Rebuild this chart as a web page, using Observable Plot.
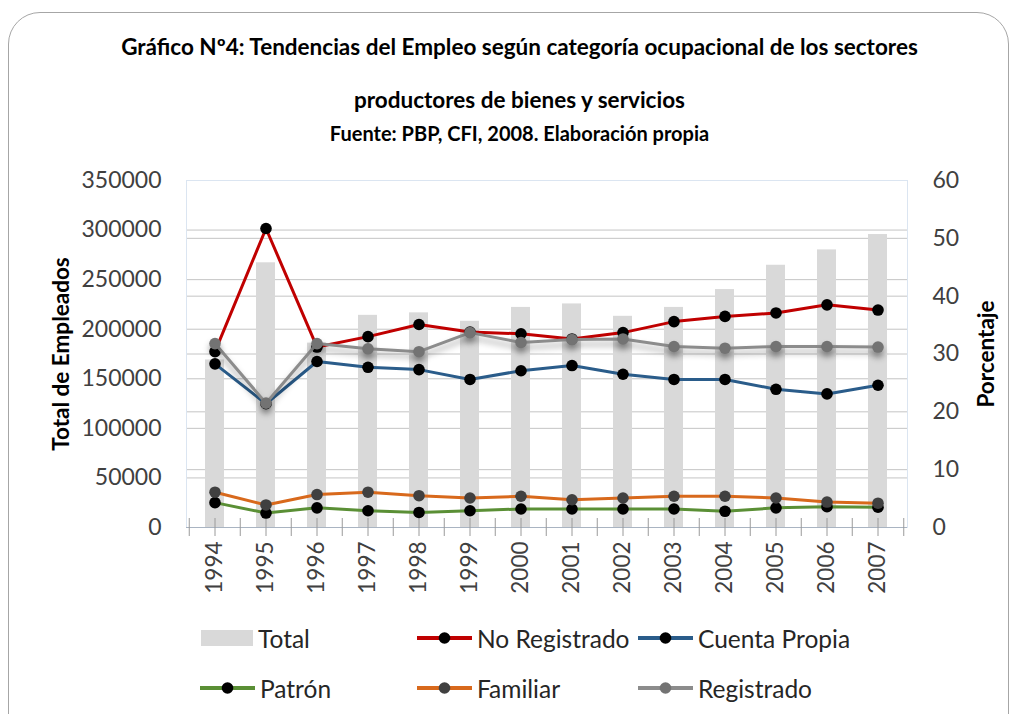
<!DOCTYPE html>
<html>
<head>
<meta charset="utf-8">
<script src="https://cdn.jsdelivr.net/npm/d3@7"></script>
<script src="https://cdn.jsdelivr.net/npm/@observablehq/plot@0.6"></script>
<style>
  html, body { margin: 0; padding: 0; background: #fff; }
  #wrap { position: relative; width: 1019px; height: 714px; overflow: hidden; font-family: Lato, "Open Sans", sans-serif; }
  #frame { position: absolute; left: 8px; top: 12px; width: 1001px; height: 760px; border: 1.5px solid #a6a6a6; border-radius: 32px; box-sizing: border-box; }
  .title { position: absolute; left: 10px; width: 1019px; text-align: center; font-weight: bold; color: #000; white-space: nowrap; line-height: 1; }
  #chart { position: absolute; left: 0; top: 160px; }
  .leg { position: absolute; display: flex; align-items: center; font-size: 24.5px; color: #262626; white-space: nowrap; }
  .leg svg { margin-right: 5px; }
</style>
</head>
<body>
<div id="wrap">
  <div id="frame"></div>
  <div class="title" style="top:36px;font-size:22.5px;">Gráfico Nº4: Tendencias del Empleo según categoría ocupacional de los sectores</div>
  <div class="title" style="top:89px;font-size:22.5px;">productores de bienes y servicios</div>
  <div class="title" style="top:123px;font-size:20px;">Fuente: PBP, CFI, 2008. Elaboración propia</div>
  <div id="chart"></div>
  <div id="legend"></div>
</div>
<script>
// ---- data ----
const years = ["1994","1995","1996","1997","1998","1999","2000","2001","2002","2003","2004","2005","2006","2007"];
const total = [169000, 267000, 186000, 214000, 216500, 208000, 222000, 225500, 213000, 222000, 240000, 264500, 280000, 295500];
const noRegistrado = [30.4, 51.7, 31.2, 33.0, 35.1, 33.8, 33.5, 32.6, 33.7, 35.6, 36.5, 37.1, 38.5, 37.6];
const cuentaPropia = [28.3, 21.4, 28.7, 27.7, 27.3, 25.6, 27.1, 28.0, 26.5, 25.6, 25.6, 23.9, 23.1, 24.6];
const patron = [4.3, 2.5, 3.4, 2.9, 2.6, 2.9, 3.2, 3.2, 3.2, 3.2, 2.8, 3.4, 3.6, 3.5];
const familiar = [6.1, 3.9, 5.7, 6.1, 5.5, 5.1, 5.4, 4.8, 5.1, 5.4, 5.4, 5.1, 4.4, 4.2];
const registrado = [31.8, 21.5, 31.8, 30.9, 30.4, 33.7, 32.0, 32.5, 32.6, 31.3, 31.0, 31.3, 31.3, 31.2];
const leftTicks = [0, 50000, 100000, 150000, 200000, 250000, 300000, 350000];
const rightTicks = [0, 10, 20, 30, 40, 50, 60];

const seriesNames = ["No Registrado", "Cuenta Propia", "Patrón", "Familiar", "Registrado"];
const seriesValues = [noRegistrado, cuentaPropia, patron, familiar, registrado];
const lineColors = ["#c00000", "#2a5c8a", "#5a8f35", "#d8691c", "#8c8c8c"];
const dotColors = ["#000000", "#000000", "#000000", "#404040", "#737373"];

// left axis max / right axis max
const LMAX = 350000, RMAX = 60;
const toLeft = p => p * LMAX / RMAX;

const W = 1019, H = 450, ML = 186, MR = 112, MT = 20, MB = 83;
const step = (W - ML - MR) / years.length;

const bars = years.map((y, i) => ({year: y, value: total[i]}));
const series = seriesNames.map((name, k) => years.map((y, i) => ({year: y, pct: seriesValues[k][i], v: toLeft(seriesValues[k][i])})));

const marks = [
  Plot.gridY(leftTicks, {stroke: "#c4c4c4", strokeOpacity: 1}),
  Plot.gridY(rightTicks.map(toLeft), {stroke: "#c4c4c4", strokeOpacity: 1}),
  Plot.barY(bars, {x: "year", y: "value", fill: "#d9d9d9"}),
  Plot.frame({stroke: "#dbe5f1"}),
  Plot.ruleY([0], {stroke: "#a9b4c2"}),
  // axis tick marks (centers and boundaries)
  Plot.ruleX(years, {x: d => d, y1: 0, y2: 0, insetTop: -9, insetBottom: -9, stroke: "#9a9a9a"}),
  Plot.ruleX(years, {x: d => d, y1: 0, y2: 0, insetTop: -9, insetBottom: -9, dx: -step / 2, stroke: "#9a9a9a"}),
  Plot.ruleX([years[years.length - 1]], {x: d => d, y1: 0, y2: 0, insetTop: -9, insetBottom: -9, dx: step / 2, stroke: "#9a9a9a"}),
];
series.forEach((s, k) => {
  const extra = k === 4 ? {imageFilter: "drop-shadow(0px 5px 3px rgba(0,0,0,0.35))"} : {};
  marks.push(Plot.line(s, {x: "year", y: "v", stroke: lineColors[k], strokeWidth: 3, ...extra}));
  marks.push(Plot.dot(s, {x: "year", y: "v", r: 5.8, fill: dotColors[k], stroke: "none", ...extra}));
});
marks.push(
  Plot.axisY(leftTicks, {anchor: "left", tickSize: 0, tickPadding: 25, tickFormat: d => String(d), fontSize: 23, label: null, fill: "#404040"}),
  Plot.axisY(rightTicks.map(toLeft), {anchor: "right", tickSize: 0, tickPadding: 25, tickFormat: d => String(Math.round(d * RMAX / LMAX)), fontSize: 23, label: null, fill: "#404040"}),
  Plot.axisX({tickSize: 0, tickPadding: 14, tickRotate: -90, fontSize: 22.5, label: null, fill: "#404040"}),
  Plot.text(["Total de Empleados"], {frameAnchor: "left", textAnchor: "middle", dx: -125, rotate: -90, fontSize: 22.5, fontWeight: "bold", fill: "#000"}),
  Plot.text(["Porcentaje"], {frameAnchor: "right", textAnchor: "middle", dx: 79, rotate: -90, fontSize: 22.5, fontWeight: "bold", fill: "#000"})
);

const chart = Plot.plot({
  width: W, height: H,
  marginLeft: ML, marginRight: MR, marginTop: MT, marginBottom: MB,
  style: {fontFamily: "Lato, 'Open Sans', sans-serif", background: "transparent", overflow: "visible"},
  x: {type: "band", domain: years, paddingInner: 0.62, paddingOuter: 0.31, align: 0.5},
  y: {domain: [0, LMAX]},
  marks
});
document.getElementById("chart").appendChild(chart);

// ---- legend ----
const legendItems = [
  {label: "Total", type: "bar", color: "#d9d9d9", left: 201, top: 638},
  {label: seriesNames[0], type: "line", color: lineColors[0], dot: dotColors[0], left: 417, top: 638},
  {label: seriesNames[1], type: "line", color: lineColors[1], dot: dotColors[1], left: 638, top: 638},
  {label: seriesNames[2], type: "line", color: lineColors[2], dot: dotColors[2], left: 200, top: 688},
  {label: seriesNames[3], type: "line", color: lineColors[3], dot: dotColors[3], left: 417, top: 688},
  {label: seriesNames[4], type: "line", color: lineColors[4], dot: dotColors[4], left: 638, top: 688}
];
const legend = document.getElementById("legend");
legendItems.forEach(it => {
  const div = document.createElement("div");
  div.className = "leg";
  div.style.left = it.left + "px";
  div.style.top = (it.top - 15) + "px";
  div.style.height = "30px";
  const sw = it.type === "bar"
    ? `<svg width="52" height="16"><rect x="0" y="0" width="52" height="16" fill="${it.color}"/></svg>`
    : `<svg width="55" height="16"><line x1="0" x2="55" y1="8" y2="8" stroke="${it.color}" stroke-width="4"/><circle cx="27.5" cy="8" r="5.8" fill="${it.dot}"/></svg>`;
  div.innerHTML = sw + `<span>${it.label}</span>`;
  legend.appendChild(div);
});
</script>
</body>
</html>
